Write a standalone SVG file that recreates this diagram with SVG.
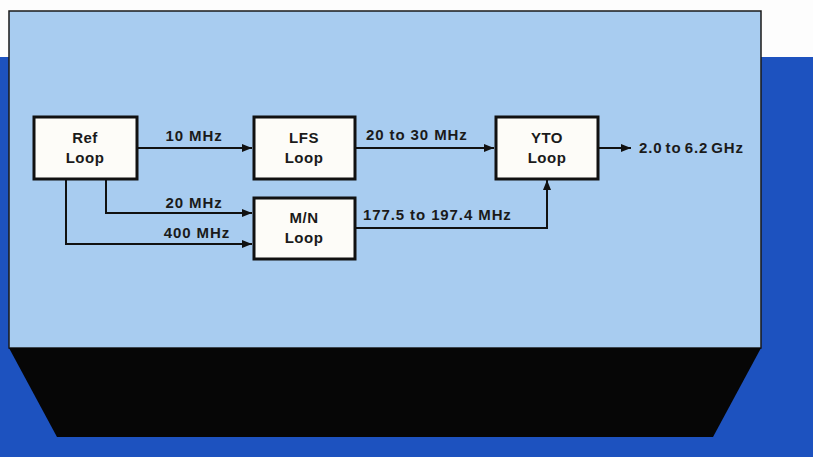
<svg xmlns="http://www.w3.org/2000/svg" width="813" height="457" viewBox="0 0 813 457">
<defs>
<marker id="ah" viewBox="0 0 10 8" refX="10" refY="4" markerWidth="10" markerHeight="8" markerUnits="userSpaceOnUse" orient="auto">
<path d="M0,0 L10,4 L0,8 Z" fill="#111"/>
</marker>
<style>
.box{fill:#fdfcf8;stroke:#111;stroke-width:3}
.nt{font-family:"Liberation Sans",Arial,sans-serif;font-weight:bold;font-size:15px;letter-spacing:0.5px;fill:#1a1a1a;text-anchor:middle}
.lb{font-family:"Liberation Sans",Arial,sans-serif;font-weight:bold;font-size:15px;letter-spacing:0.9px;fill:#1a1a1a}
.cn{fill:none;stroke:#111;stroke-width:2}
</style>
</defs>
<rect x="0" y="0" width="813" height="457" fill="#fdfdfd"/>
<rect x="0" y="57" width="813" height="400" fill="#1d52bf"/>
<rect x="9" y="11" width="752" height="337" fill="#a8ccf0" stroke="#1a1a1a" stroke-width="1.5"/>
<polygon points="9,348 761,348 713,437 57,437" fill="#060606"/>
<g id="connectors">
<line class="cn" x1="137" y1="148" x2="252" y2="148" marker-end="url(#ah)"/>
<polyline class="cn" points="106,179 106,213 252,213" marker-end="url(#ah)"/>
<polyline class="cn" points="66,179 66,244 252,244" marker-end="url(#ah)"/>
<line class="cn" x1="355" y1="148" x2="494" y2="148" marker-end="url(#ah)"/>
<polyline class="cn" points="355,228 547,228 547,180" marker-end="url(#ah)"/>
<line class="cn" x1="598" y1="148" x2="631" y2="148" marker-end="url(#ah)"/>
<text class="lb" x="194" y="141" text-anchor="middle">10 MHz</text>
<text class="lb" x="194" y="208" text-anchor="middle">20 MHz</text>
<text class="lb" x="197" y="238" text-anchor="middle">400 MHz</text>
<text class="lb" x="366" y="140">20 to 30 MHz</text>
<text class="lb" x="363" y="220">177.5 to 197.4 MHz</text>
<text class="lb" x="639" y="153" word-spacing="-2">2.0 to 6.2 GHz</text>
</g>
<g id="ref">
<rect class="box" x="34" y="117" width="103" height="62"/>
<text class="nt" x="85" y="143">Ref</text>
<text class="nt" x="85" y="163">Loop</text>
</g>
<g id="lfs">
<rect class="box" x="254" y="117" width="101" height="62"/>
<text class="nt" x="304" y="143">LFS</text>
<text class="nt" x="304" y="163">Loop</text>
</g>
<g id="mn">
<rect class="box" x="254" y="198" width="101" height="61"/>
<text class="nt" x="304" y="223">M/N</text>
<text class="nt" x="304" y="243">Loop</text>
</g>
<g id="yto">
<rect class="box" x="496" y="117" width="102" height="62"/>
<text class="nt" x="547" y="143">YTO</text>
<text class="nt" x="547" y="163">Loop</text>
</g>
</svg>
